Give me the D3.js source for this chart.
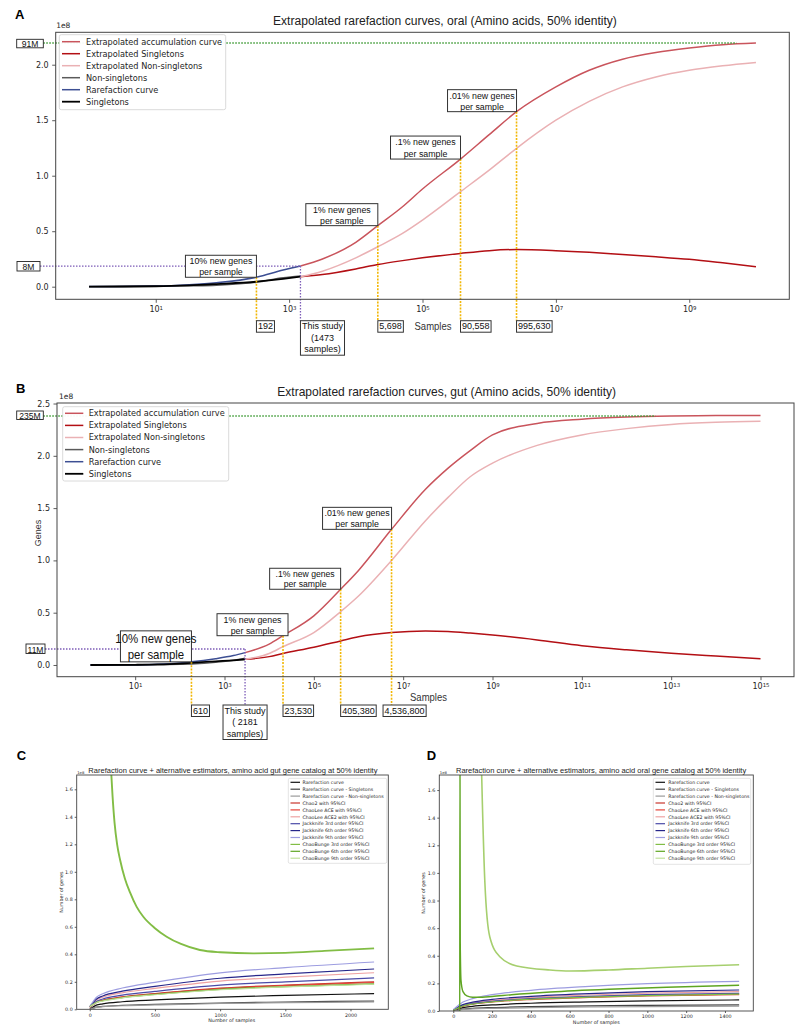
<!DOCTYPE html>
<html lang="en">
<head>
<meta charset="utf-8">
<title>Extrapolated rarefaction curves</title>
<script src="https://d3js.org/d3.v7.min.js"></script>
<style>
body { margin: 0; background: #fff; }
svg text { font-family: "DejaVu Sans", sans-serif; fill: #262626; }
svg text.ai { font-family: "Liberation Sans", Arial, sans-serif; fill: #111; }
</style>
</head>
<body>
<div id="fig"></div>
<script>
// ---------- data (genes in units of 1e8, samples as log10 exponents for A/B) ----------

// A: oral
var oralObsLog        = [0, 1, 1.5, 1.91, 2.51, 2.91, 3.17];
var oralRarefaction   = [0.001, 0.006, 0.018, 0.036, 0.085, 0.15, 0.186];
var oralSingletons    = [0.0005, 0.004, 0.012, 0.024, 0.045, 0.07, 0.09];
var oralNonSingletons = [0.0005, 0.003, 0.008, 0.014, 0.04, 0.08, 0.096];
var oralExtLog        = [3.17, 3.5, 4.0, 4.33, 4.7, 5.0, 5.57, 6.0, 6.41, 7.0, 7.5, 8.0, 8.5, 9.0, 9.5, 10];
var oralExtAccum      = [0.186, 0.25, 0.40, 0.55, 0.72, 0.88, 1.15, 1.37, 1.577, 1.80, 1.95, 2.05, 2.11, 2.15, 2.18, 2.195];
var oralExtSingletons = [0.09, 0.11, 0.16, 0.20, 0.235, 0.26, 0.30, 0.325, 0.335, 0.325, 0.31, 0.29, 0.27, 0.247, 0.215, 0.18];
var oralExtNonSingl   = [0.09, 0.14, 0.26, 0.36, 0.48, 0.60, 0.856, 1.05, 1.247, 1.50, 1.67, 1.80, 1.89, 1.95, 1.99, 2.02];
var oralMarkLog   = [2.51, 4.33, 5.57, 6.41];
var oralMarkVal   = [0.085, 0.55, 1.15, 1.577];
var oralMarkPct   = ["10%", "1%", ".1%", ".01%"];
var oralMarkLabel = ["192", "5,698", "90,558", "995,630"];
var oralStudyLog = 3.17, oralStudyVal = 0.186, oralStudyN = "1473";
var oralTotalVal = 2.195, oralTotalLabel = "91M", oralStudyLabel = "8M", oralTotalEndLog = 9.71;

// B: gut
var gutObsLog        = [0, 1, 1.5, 2.0, 2.26, 2.8, 3.2, 3.46];
var gutRarefaction   = [0.0005, 0.003, 0.008, 0.02, 0.03, 0.06, 0.09, 0.118];
var gutSingletons    = [0.0, 0.002, 0.005, 0.013, 0.02, 0.035, 0.045, 0.054];
var gutNonSingletons = [0.0005, 0.001, 0.003, 0.007, 0.01, 0.025, 0.045, 0.064];
var gutExtLog        = [3.46, 4.0, 4.31, 5.0, 5.6, 6.0, 6.74, 7.5, 8.0, 8.5, 9, 10, 11, 12, 13, 14, 15];
var gutExtAccum      = [0.118, 0.2, 0.28, 0.47, 0.724, 0.904, 1.297, 1.68, 1.88, 2.05, 2.2, 2.31, 2.35, 2.37, 2.38, 2.385, 2.385];
var gutExtSingletons = [0.054, 0.08, 0.11, 0.17, 0.23, 0.27, 0.31, 0.325, 0.32, 0.305, 0.287, 0.24, 0.185, 0.145, 0.112, 0.085, 0.06];
var gutExtNonSingl   = [0.054, 0.11, 0.175, 0.31, 0.51, 0.66, 1.0, 1.38, 1.6, 1.8, 1.93, 2.1, 2.2, 2.26, 2.3, 2.32, 2.33];
var gutMarkLog   = [2.26, 4.31, 5.6, 6.74];
var gutMarkVal   = [0.03, 0.28, 0.724, 1.297];
var gutMarkPct   = ["10%", "1%", ".1%", ".01%"];
var gutMarkLabel = ["610", "23,530", "405,380", "4,536,800"];
var gutStudyLog = 3.46, gutStudyVal = 0.153, gutStudyN = " 2181";
var gutTotalVal = 2.38, gutTotalLabel = "235M", gutStudyLabel = "11M", gutTotalEndLog = 12.65;

var extrapNames  = ["Extrapolated accumulation curve", "Extrapolated Singletons", "Extrapolated Non-singletons",
                    "Non-singletons", "Rarefaction curve", "Singletons"];
var extrapColors = ["#c9545c", "#b30f14", "#eab1b4", "#5a5a5a", "#3d4f93", "#000000"];

// C/D: estimators
var estNames = ["Rarefaction curve", "Rarefaction curve - Singletons", "Rarefaction curve - Non-singletons",
  "Chao2 with 95%CI", "ChaoLee ACE with 95%CI", "ChaoLee ACE2 with 95%CI",
  "Jackknife 3rd order 95%CI", "Jackknife 6th order 95%CI", "Jackknife 9th order 95%CI",
  "ChaoBunge 3rd order 95%CI", "ChaoBunge 6th order 95%CI", "ChaoBunge 9th order 95%CI"];
var estColors = ["#111111", "#454545", "#9a9a9a", "#c8342c", "#e5443a", "#eea2a2",
  "#4a4aa8", "#26268a", "#9d9de0", "#82bd45", "#5ea521", "#bfe09a"];

var gutEstX = [1, 50, 100, 250, 500, 1000, 1500, 2181];
var gutEst = [
  [0.001, 0.03, 0.04, 0.055, 0.068, 0.088, 0.101, 0.114],
  [0.001, 0.016, 0.021, 0.029, 0.036, 0.046, 0.053, 0.06],
  [0.0, 0.014, 0.019, 0.026, 0.032, 0.042, 0.048, 0.054],
  [0.014, 0.05, 0.066, 0.09, 0.114, 0.154, 0.176, 0.2],
  [0.014, 0.049, 0.064, 0.088, 0.111, 0.15, 0.172, 0.195],
  [0.02, 0.067, 0.088, 0.12, 0.152, 0.205, 0.234, 0.266],
  [0.016, 0.057, 0.075, 0.103, 0.13, 0.176, 0.2, 0.228],
  [0.018, 0.073, 0.097, 0.132, 0.167, 0.226, 0.258, 0.293],
  [0.02, 0.086, 0.113, 0.155, 0.196, 0.265, 0.303, 0.344],
  null,
  [0.02, 0.05, 0.062, 0.085, 0.108, 0.145, 0.165, 0.185],
  [0.018, 0.048, 0.06, 0.083, 0.106, 0.142, 0.163, 0.182]
];
var gutBunge3X = [160, 175, 190, 210, 233, 270, 309, 360, 411, 500, 590, 700, 845, 1000, 1253, 1500, 1800, 2181];
var gutBunge3Y = [1.8, 1.55, 1.36, 1.2, 1.086, 0.95, 0.85, 0.745, 0.673, 0.59, 0.528, 0.475, 0.431, 0.415, 0.407, 0.41, 0.425, 0.443];

var oralEstX = [1, 50, 100, 200, 400, 700, 1000, 1473];
var oralEst = [
  [0.001, 0.025, 0.034, 0.044, 0.056, 0.066, 0.074, 0.08],
  [0.001, 0.014, 0.019, 0.025, 0.032, 0.037, 0.041, 0.045],
  [0.0, 0.011, 0.015, 0.019, 0.024, 0.029, 0.032, 0.035],
  [0.006, 0.037, 0.052, 0.068, 0.086, 0.102, 0.113, 0.123],
  [0.006, 0.035, 0.05, 0.065, 0.083, 0.098, 0.109, 0.118],
  [0.007, 0.042, 0.059, 0.077, 0.098, 0.116, 0.129, 0.14],
  [0.006, 0.038, 0.054, 0.07, 0.09, 0.106, 0.118, 0.128],
  [0.008, 0.046, 0.064, 0.084, 0.106, 0.126, 0.14, 0.152],
  [0.011, 0.065, 0.09, 0.118, 0.15, 0.178, 0.198, 0.215],
  [0.005, 0.036, 0.05, 0.066, 0.085, 0.1, 0.112, 0.122],
  null,
  null
];
var oralBunge6X = [1, 20, 30, 33, 34.5, 36, 40, 50, 70, 100, 150, 200, 300, 500, 800, 1100, 1473];
var oralBunge6Y = [0.0, -0.02, -0.1, -0.5, 1.9, 0.5, 0.22, 0.14, 0.11, 0.1, 0.1, 0.105, 0.118, 0.138, 0.158, 0.172, 0.186];
var oralBunge9X = [143, 150, 163, 188, 240, 327, 498, 600, 800, 1000, 1200, 1473];
var oralBunge9Y = [1.9, 1.5, 0.925, 0.538, 0.393, 0.326, 0.297, 0.29, 0.297, 0.31, 0.322, 0.335];

// ---------- drawing ----------
var svg = d3.select("#fig").append("svg").attr("width", 800).attr("height", 1030);
svg.append("rect").attr("width", 800).attr("height", 1030).attr("fill", "#fff");

// narrow (Myriad-like) text: squeezed horizontally
function narrowText(parent, x, y, str, fs, f, anchor) {
  return parent.append("text").attr("class", "ai").attr("font-size", fs)
    .attr("text-anchor", anchor || "start").text(str)
    .attr("transform", "translate(" + x + "," + y + ") scale(" + f + ",1)");
}
function fittedText(parent, x, y, str, fs, w) {
  var t = narrowText(parent, x, y, str, fs, 1, "start");
  var n = t.node().getComputedTextLength();
  t.attr("transform", "translate(" + x + "," + y + ") scale(" + (w / n) + ",1)");
  return t;
}
function panelLetter(t, x, y) {
  svg.append("text").attr("x", x).attr("y", y).text(t)
    .style("font-family", "'Liberation Sans', Arial, sans-serif").style("font-weight", "bold")
    .style("font-size", "13px").style("fill", "#000");
}
function styleAxis(a, fs) {
  a.attr("font-size", fs).attr("font-family", null);
  a.select(".domain").remove();
  a.selectAll(".tick line").attr("stroke", "#333").attr("stroke-width", 0.8);
}

function drawExtrap(p) {
  var x = d3.scaleLog().domain(p.xDom).range([p.l, p.r]);
  var y = d3.scaleLinear().domain(p.yDom).range([p.b, p.t]);
  var g = svg.append("g");
  var clipId = "clip" + p.key;
  svg.append("clipPath").attr("id", clipId).append("rect")
    .attr("x", p.l).attr("y", p.t).attr("width", p.r - p.l).attr("height", p.b - p.t);
  var X = function (L) { return x(Math.pow(10, L)); };

  // axes
  var xa = g.append("g").attr("transform", "translate(0," + p.b + ")")
    .call(d3.axisBottom(x).tickValues(p.xTickExp.map(function (e) { return Math.pow(10, e); }))
      .tickSize(3.5).tickPadding(3.5).tickFormat(function () { return "10"; }));
  styleAxis(xa, 8);
  xa.selectAll(".tick text").each(function (d) {
    d3.select(this).append("tspan").attr("dy", "-0.45em").attr("font-size", "0.68em")
      .text(Math.round(Math.log10(d)));
  });
  var ya = g.append("g").attr("transform", "translate(" + p.l + ",0)")
    .call(d3.axisLeft(y).tickValues(p.yTicks).tickSize(3.5).tickPadding(3.5).tickFormat(d3.format(".1f")));
  styleAxis(ya, 8);
  g.append("text").attr("x", p.l + p.offX).attr("y", p.t - 4.5).attr("font-size", 7.5).text("1e8");

  // curves
  var line = d3.line().curve(d3.curveMonotoneX);
  var cg = g.append("g").attr("clip-path", "url(#" + clipId + ")");
  var series = [
    [p.extLog, p.extAccum, 0], [p.extLog, p.extSingl, 1], [p.extLog, p.extNon, 2],
    [p.obsLog, p.obsNon, 3], [p.obsLog, p.obsRare, 4], [p.obsLog, p.obsSingl, 5]
  ];
  series.forEach(function (s) {
    cg.append("path")
      .attr("d", line(s[0].map(function (L, i) { return [X(L), y(s[1][i])]; })))
      .attr("fill", "none").attr("stroke", extrapColors[s[2]]).attr("stroke-width", s[2] === 5 ? 1.8 : 1.5);
  });

  // guide lines
  g.append("line").attr("x1", p.totBox.x + p.totBox.w).attr("x2", X(p.totalEndLog))
    .attr("y1", y(p.totalVal)).attr("y2", y(p.totalVal))
    .attr("stroke", "#3c9a33").attr("stroke-width", 1.5).attr("stroke-dasharray", "1.5,1.5");
  g.append("line").attr("x1", p.stBox.x + p.stBox.w).attr("x2", X(p.studyLog))
    .attr("y1", y(p.studyVal)).attr("y2", y(p.studyVal))
    .attr("stroke", "#7d5cb8").attr("stroke-width", 1.3).attr("stroke-dasharray", "1.5,1.5");
  g.append("line").attr("x1", X(p.studyLog)).attr("x2", X(p.studyLog))
    .attr("y1", y(p.studyVal)).attr("y2", p.labTop)
    .attr("stroke", "#7d5cb8").attr("stroke-width", 1.3).attr("stroke-dasharray", "1.5,1.5");
  p.markLog.forEach(function (L, i) {
    g.append("line").attr("x1", X(L)).attr("x2", X(L)).attr("y1", y(p.markVal[i])).attr("y2", p.labTop)
      .attr("stroke", "#f2b705").attr("stroke-width", 1.6).attr("stroke-dasharray", "2,1.3");
  });

  // legend
  var lg = p.leg;
  g.append("rect").attr("x", lg.x).attr("y", lg.y).attr("width", lg.w).attr("height", lg.h).attr("rx", 2)
    .attr("fill", "#fff").attr("fill-opacity", 0.95).attr("stroke", "#d0d0d0").attr("stroke-width", 0.8);
  extrapNames.forEach(function (n, i) {
    var yy = lg.r0 + i * lg.dy;
    g.append("line").attr("x1", lg.lx0).attr("x2", lg.lx1).attr("y1", yy).attr("y2", yy)
      .attr("stroke", extrapColors[i]).attr("stroke-width", i === 5 ? 1.8 : 1.5);
    g.append("text").attr("x", lg.tx).attr("y", yy + 2.9).attr("font-size", 8.2).text(n);
  });

  // left value boxes
  [[p.totBox, p.totalLabel], [p.stBox, p.studyLabel]].forEach(function (b) {
    g.append("rect").attr("x", b[0].x).attr("y", b[0].y).attr("width", b[0].w).attr("height", b[0].h)
      .attr("fill", "#fff").attr("stroke", "#222").attr("stroke-width", 0.9);
    narrowText(g, b[0].x + b[0].w / 2, b[0].y + b[0].h - 1, b[1], 9.5, 0.9, "middle");
  });

  // percent boxes
  p.markLog.forEach(function (L, i) {
    var m = p.markBox[i];
    var xr = X(L) + m.dx, yb = y(p.markVal[i]);
    g.append("rect").attr("x", xr - m.w).attr("y", yb - m.h).attr("width", m.w).attr("height", m.h)
      .attr("fill", "#fff").attr("stroke", "#333").attr("stroke-width", 1);
    [p.markPct[i] + " new genes", "per sample"].forEach(function (s, k) {
      narrowText(g, xr - m.w / 2, yb - m.h + m.h * (k + 0.5) / 2 + m.fs * 0.36, s, m.fs, 0.93, "middle");
    });
  });

  // sample labels under axis
  function labelBox(xl, lines, anchor) {
    var lg2 = g.append("g");
    var ws = lines.map(function (s, k) {
      var t = narrowText(lg2, 0, p.labTop + p.labFs * 0.88 + k * p.labSp, s, p.labFs, 0.92, "middle");
      return t.node().getComputedTextLength() * 0.92;
    });
    var w = d3.max(ws) + 3, h = lines.length * p.labSp;
    var left = anchor === "middle" ? xl - w / 2 : xl;
    lg2.insert("rect", "text").attr("x", -w / 2).attr("y", p.labTop).attr("width", w).attr("height", h)
      .attr("fill", "#fff").attr("stroke", "#333").attr("stroke-width", 1);
    lg2.attr("transform", "translate(" + (left + w / 2) + ",0)");
  }
  p.markLog.forEach(function (L, i) { labelBox(X(L) + p.labDx[i], [p.markLabel[i]], "start"); });
  labelBox(X(p.studyLog), ["This study", "(" + p.studyN, "samples)"], p.studyAnchor);

  narrowText(g, p.xlab[0], p.xlab[1], "Samples", 10, 0.95, "middle").style("fill", "#333");

  // title
  fittedText(svg, p.title[0], p.title[1], p.titleText, 12.3, p.title[2]).style("fill", "#222");

  // frame
  g.append("rect").attr("x", p.l).attr("y", p.t).attr("width", p.r - p.l).attr("height", p.b - p.t)
    .attr("fill", "none").attr("stroke", "#444").attr("stroke-width", 1);
}

drawExtrap({
  key: "A", l: 55.7, r: 789.3, t: 32.3, b: 299.3,
  xDom: [Math.pow(10, -0.5), Math.pow(10, 10.5)], yDom: [-0.1135, 2.292],
  xTickExp: [1, 3, 5, 7, 9], yTicks: [0, 0.5, 1, 1.5, 2], offX: 0.5,
  obsLog: oralObsLog, obsRare: oralRarefaction, obsSingl: oralSingletons, obsNon: oralNonSingletons,
  extLog: oralExtLog, extAccum: oralExtAccum, extSingl: oralExtSingletons, extNon: oralExtNonSingl,
  markLog: oralMarkLog, markVal: oralMarkVal, markPct: oralMarkPct, markLabel: oralMarkLabel,
  studyLog: oralStudyLog, studyVal: oralStudyVal, studyN: oralStudyN,
  totalVal: oralTotalVal, totalLabel: oralTotalLabel, studyLabel: oralStudyLabel, totalEndLog: oralTotalEndLog,
  totBox: {x: 16.7, y: 39.3, w: 26.6, h: 8.5}, stBox: {x: 17, y: 261.5, w: 23, h: 9.5},
  leg: {x: 59.3, y: 34.7, w: 166.4, h: 75, r0: 41.7, dy: 12, lx0: 62, lx1: 80, tx: 86},
  markBox: [{w: 71, h: 22, fs: 9.5, dx: 0}, {w: 72, h: 22, fs: 9.5, dx: 0}, {w: 70, h: 23, fs: 9.5, dx: 0}, {w: 69, h: 22, fs: 9.5, dx: 0}],
  labTop: 320.7, labFs: 9.8, labSp: 11.5, labDx: [0, 0, 0, 0], studyAnchor: "start",
  xlab: [433, 329.5],
  title: [273, 24.5, 344], titleText: "Extrapolated rarefaction curves, oral (Amino acids, 50% identity)"
});

drawExtrap({
  key: "B", l: 57, r: 794, t: 403, b: 676.7,
  xDom: [Math.pow(10, -0.75), Math.pow(10, 15.75)], yDom: [-0.112, 2.505],
  xTickExp: [1, 3, 5, 7, 9, 11, 13, 15], yTicks: [0, 0.5, 1, 1.5, 2, 2.5], offX: 2,
  obsLog: gutObsLog, obsRare: gutRarefaction, obsSingl: gutSingletons, obsNon: gutNonSingletons,
  extLog: gutExtLog, extAccum: gutExtAccum, extSingl: gutExtSingletons, extNon: gutExtNonSingl,
  markLog: gutMarkLog, markVal: gutMarkVal, markPct: gutMarkPct, markLabel: gutMarkLabel,
  studyLog: gutStudyLog, studyVal: gutStudyVal, studyN: gutStudyN,
  totalVal: gutTotalVal, totalLabel: gutTotalLabel, studyLabel: gutStudyLabel, totalEndLog: gutTotalEndLog,
  totBox: {x: 16.7, y: 411, w: 26.6, h: 8.5}, stBox: {x: 26, y: 644, w: 19, h: 9.5},
  leg: {x: 62.7, y: 406.7, w: 166, h: 74.3, r0: 413.3, dy: 12.1, lx0: 65, lx1: 83.3, tx: 88.7},
  markBox: [{w: 71, h: 31, fs: 12.3, dx: 0}, {w: 71, h: 22, fs: 9.5, dx: 5}, {w: 71, h: 21, fs: 9.3, dx: 0}, {w: 69, h: 22, fs: 9.5, dx: 0}],
  labTop: 705, labFs: 9.8, labSp: 11.5, labDx: [0, 0, 0, -8.5], studyAnchor: "middle",
  xlab: [428.5, 701],
  title: [277.3, 396, 339], titleText: "Extrapolated rarefaction curves, gut (Amino acids, 50% identity)"
});
svg.append("text").attr("class", "ai").attr("transform", "translate(41,533) rotate(-90)")
  .attr("text-anchor", "middle").attr("font-size", 9).style("fill", "#333").text("Genes");

function drawEst(p) {
  var x = d3.scaleLinear().domain(p.xDom).range([p.l, p.r]);
  var y = d3.scaleLinear().domain(p.yDom).range([p.b, p.t]);
  var g = svg.append("g");
  var clipId = "clip" + p.key;
  svg.append("clipPath").attr("id", clipId).append("rect")
    .attr("x", p.l).attr("y", p.t).attr("width", p.r - p.l).attr("height", p.b - p.t);

  var xa = g.append("g").attr("transform", "translate(0," + p.b + ")")
    .call(d3.axisBottom(x).tickValues(p.xTicks).tickSize(2).tickPadding(2).tickFormat(d3.format("d")));
  styleAxis(xa, 4.8);
  var ya = g.append("g").attr("transform", "translate(" + p.l + ",0)")
    .call(d3.axisLeft(y).tickValues(p.yTicks).tickSize(2).tickPadding(2).tickFormat(d3.format(".1f")));
  styleAxis(ya, 4.8);
  g.append("text").attr("x", p.l + 0.5).attr("y", p.t - 1).attr("font-size", 3.8).text("1e8");
  g.append("text").attr("x", (p.l + p.r) / 2 + p.xlabDx).attr("y", p.b + 12.5).attr("text-anchor", "middle")
    .attr("font-size", 4.8).text("Number of samples");
  g.append("text").attr("transform", "translate(" + p.ylabX + "," + ((p.t + p.b) / 2) + ") rotate(-90)")
    .attr("text-anchor", "middle").attr("font-size", 4.8).text("Number of genes");

  var line = d3.line().curve(d3.curveMonotoneX);
  var cg = g.append("g").attr("clip-path", "url(#" + clipId + ")");
  p.series.forEach(function (s) {
    cg.append("path").attr("d", line(s.xs.map(function (v, i) { return [x(v), y(s.ys[i])]; })))
      .attr("fill", "none").attr("stroke", s.color || estColors[s.c]).attr("stroke-width", s.w || 1.2);
  });

  var lg = p.leg;
  g.append("rect").attr("x", lg.x).attr("y", lg.y).attr("width", lg.w).attr("height", lg.h).attr("rx", 1.5)
    .attr("fill", "#fff").attr("fill-opacity", 0.95).attr("stroke", "#d0d0d0").attr("stroke-width", 0.6);
  estNames.forEach(function (n, i) {
    var yy = lg.r0 + i * lg.dy;
    g.append("line").attr("x1", lg.lx0).attr("x2", lg.lx1).attr("y1", yy).attr("y2", yy)
      .attr("stroke", estColors[i]).attr("stroke-width", 1.2);
    g.append("text").attr("x", lg.tx).attr("y", yy + 1.7).attr("font-size", 4.7).text(n);
  });

  fittedText(svg, p.title[0], p.title[1], p.titleText, 8, p.title[2]).style("fill", "#222");

  g.append("rect").attr("x", p.l).attr("y", p.t).attr("width", p.r - p.l).attr("height", p.b - p.t)
    .attr("fill", "none").attr("stroke", "#444").attr("stroke-width", 0.9);
}

function estSeries(xs, table, extra) {
  var out = [];
  table.forEach(function (ys, i) { if (ys) out.push({xs: xs, ys: ys, c: i}); });
  return out.concat(extra);
}

drawEst({
  key: "C", l: 76.7, r: 388.3, t: 775, b: 1009.3, xDom: [-100, 2290], yDom: [0, 1.704],
  xTicks: [0, 500, 1000, 1500, 2000], yTicks: [0, 0.2, 0.4, 0.6, 0.8, 1.0, 1.2, 1.4, 1.6],
  xlabDx: -0.8, ylabX: 62.5,
  series: estSeries(gutEstX, gutEst, [{xs: gutBunge3X, ys: gutBunge3Y, c: 9, w: 1.9}]),
  leg: {x: 288.3, y: 778.3, w: 98.4, h: 85, r0: 782.3, dy: 6.9, lx0: 290.5, lx1: 300, tx: 302.5},
  title: [88.3, 773.3, 289.4], titleText: "Rarefaction curve + alternative estimators, amino acid gut gene catalog at 50% identity"
});

drawEst({
  key: "D", l: 439.3, r: 753.3, t: 775, b: 1011, xDom: [-72, 1546], yDom: [0, 1.709],
  xTicks: [0, 200, 400, 600, 800, 1000, 1200, 1400], yTicks: [0, 0.2, 0.4, 0.6, 0.8, 1.0, 1.2, 1.4, 1.6],
  xlabDx: 0, ylabX: 424.5,
  series: estSeries(oralEstX, oralEst, [
    {xs: oralBunge6X, ys: oralBunge6Y, c: 10, w: 1.4},
    {xs: oralBunge9X, ys: oralBunge9Y, c: 11, w: 1.6, color: "#a6cf6e"}
  ]),
  leg: {x: 653.3, y: 778.3, w: 97.4, h: 86, r0: 782.3, dy: 6.9, lx0: 655.5, lx1: 665, tx: 668.3},
  title: [456, 773.3, 290.7], titleText: "Rarefaction curve + alternative estimators, amino acid oral gene catalog at 50% identity"
});

panelLetter("A", 15, 18.5);
panelLetter("B", 16, 392.7);
panelLetter("C", 16.7, 760);
panelLetter("D", 426.7, 760);
</script>
</body>
</html>
